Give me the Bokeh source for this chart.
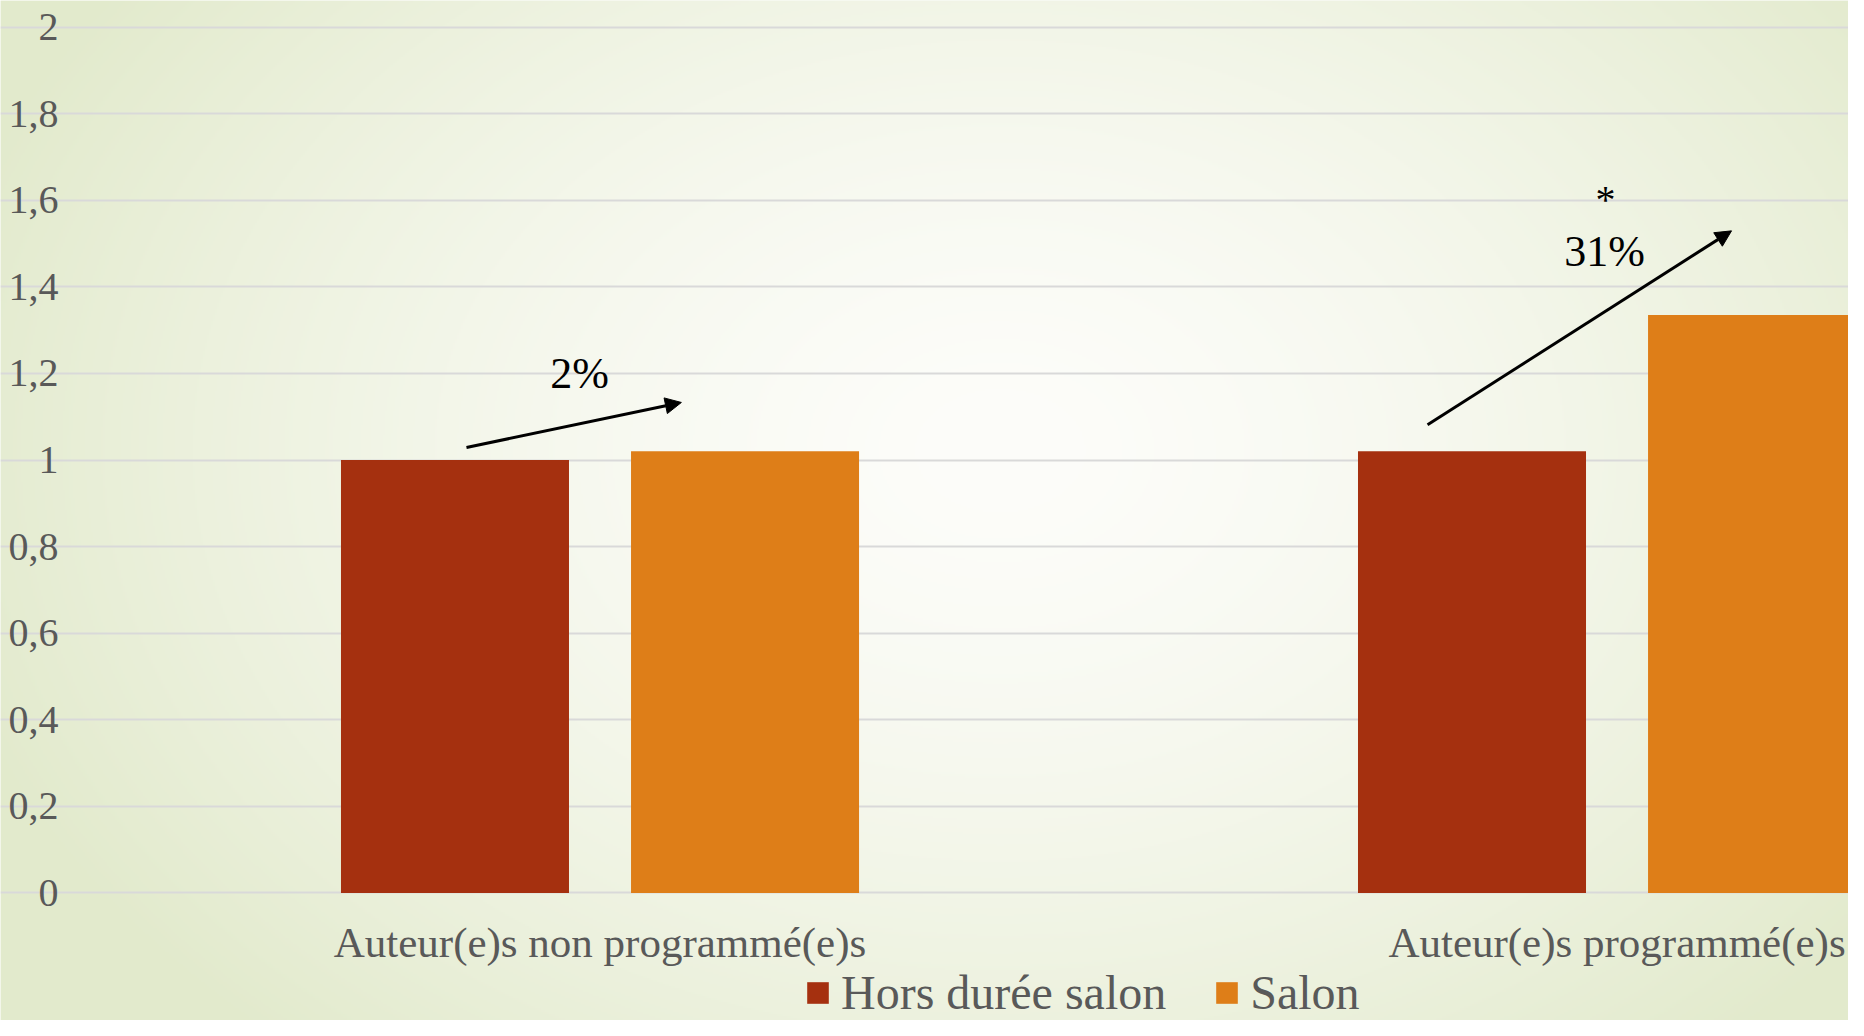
import numpy as np
from bokeh.plotting import figure
from bokeh.models import (ColumnDataSource, Range1d, FixedTicker, Label, Arrow,
                          NormalHead, Legend)
from bokeh.transform import dodge
from bokeh.embed import file_html
from bokeh.resources import INLINE

# ---------------- data ----------------
categories = ["Auteur(e)s non programmé(e)s", "Auteur(e)s programmé(e)s"]
series_names = ["Hors durée salon", "Salon"]
hors_duree = [1.0, 1.02]
salon = [1.02, 1.335]
y_ticks = [0, 0.2, 0.4, 0.6, 0.8, 1.0, 1.2, 1.4, 1.6, 1.8, 2.0]
y_tick_labels = ["0", "0,2", "0,4", "0,6", "0,8", "1", "1,2", "1,4", "1,6", "1,8", "2"]
change_labels = ["2%", "31%"]
significance_mark = "*"

# ---------------- style ----------------
W, H = 1848, 1020
FONT = "Liberation Serif"
GRAY = "#595959"
C_HORS = "#A5300F"
C_SALON = "#DE7E18"
X_START, X_END = -0.08948, 1.7276
Y_START, Y_END = -0.2948, 2.0616

p = figure(width=W, height=H, output_backend="svg", toolbar_location=None,
           x_range=Range1d(X_START, X_END), y_range=Range1d(Y_START, Y_END),
           min_border=0)
p.outline_line_color = None
p.border_fill_color = "#ebf0dc"
p.background_fill_color = "#f4f7ec"

# background radial gradient (slide theme) filling the whole plot
nx, ny = 924, 510
FX, FY = np.meshgrid(np.linspace(0, 1, nx), np.linspace(0, 1, ny))
px = FX * W
py = H - FY * H
dx = (px - 1000) / 1100
dy = (py - 450) / 800
t = np.clip(np.sqrt(dx ** 2 + dy ** 2), 0, 1) ** 1.5
c0 = np.array([253, 253, 250])
c1 = np.array([226, 234, 204])
rgb = c0[None, None, :] + (c1 - c0)[None, None, :] * t[:, :, None]
img = np.empty((ny, nx), dtype=np.uint32)
view = img.view(dtype=np.uint8).reshape((ny, nx, 4))
view[:, :, 0] = rgb[:, :, 0].astype(np.uint8)
view[:, :, 1] = rgb[:, :, 1].astype(np.uint8)
view[:, :, 2] = rgb[:, :, 2].astype(np.uint8)
view[:, :, 3] = 255
p.image_rgba(image=[img], x=X_START, y=Y_START, dw=X_END - X_START,
             dh=Y_END - Y_START, level="image")

# grid
p.xgrid.visible = False
p.ygrid.ticker = FixedTicker(ticks=y_ticks)
p.ygrid.bounds = (0, X_END)
p.ygrid.grid_line_color = "#d9d9d9"
p.ygrid.grid_line_width = 2

# axes (pinned at the data origin so that the plot area fills the slide)
x_pos = [i + 0.5 for i in range(len(categories))]
p.xaxis.ticker = FixedTicker(ticks=x_pos)
p.xaxis.major_label_overrides = dict(zip(x_pos, categories))
p.yaxis.ticker = FixedTicker(ticks=y_ticks)
p.yaxis.major_label_overrides = dict(zip(y_ticks, y_tick_labels))
p.xaxis.fixed_location = 0
p.yaxis.fixed_location = 0
for ax in (p.xaxis, p.yaxis):
    ax.axis_line_color = None
    ax.major_tick_line_color = None
    ax.minor_tick_line_color = None
    ax.major_tick_out = 0
    ax.major_tick_in = 0
    ax.major_label_text_font = FONT
    ax.major_label_text_color = GRAY
p.xaxis.major_label_text_font_size = "43px"
p.xaxis.major_label_standoff = 26
p.yaxis.major_label_text_font_size = "40px"
p.yaxis.major_label_standoff = 33

# bars
src = ColumnDataSource(dict(x=x_pos, hors=hors_duree, salon=salon))
BW = 0.2242
r1 = p.vbar(x=dodge("x", -0.1426, range=p.x_range), top="hors", width=BW,
            source=src, fill_color=C_HORS, line_color=None)
r2 = p.vbar(x=dodge("x", 0.1426, range=p.x_range), top="salon", width=BW,
            source=src, fill_color=C_SALON, line_color=None)

legend = Legend(items=[(series_names[0], [r1]), (series_names[1], [r2])],
                location=(804, 0), orientation="horizontal",
                glyph_width=27, glyph_height=27, label_standoff=10, spacing=47,
                padding=0, margin=0, background_fill_alpha=0,
                border_line_alpha=0, label_text_font=FONT,
                label_text_font_size="48px", label_text_color=GRAY,
                label_text_line_height=0.8)
p.add_layout(legend)

# annotations: change arrows
head = dict(size=16, fill_color="black", line_color="black")
p.add_layout(Arrow(end=NormalHead(**head), x_start=0.3687, y_start=1.029,
                   x_end=0.580, y_end=1.133, line_width=3, line_color="black"))
p.add_layout(Arrow(end=NormalHead(**head), x_start=1.3137, y_start=1.0817,
                   x_end=1.6126, y_end=1.5294, line_width=3, line_color="black"))
p.add_layout(Label(x=0.4798, y=1.1996, text=change_labels[0], text_align="center",
                   text_baseline="middle", text_font=FONT, text_font_size="44px",
                   text_color="black"))
p.add_layout(Label(x=1.4877, y=1.4815, text=change_labels[1], text_align="center",
                   text_baseline="middle", text_font=FONT, text_font_size="44px",
                   text_color="black"))
p.add_layout(Label(x=1.4887, y=1.601, text=significance_mark, text_align="center",
                   text_baseline="alphabetic", text_font=FONT, text_font_size="40px",
                   text_color="black"))

open("out.html", "w").write(file_html(p, INLINE))
